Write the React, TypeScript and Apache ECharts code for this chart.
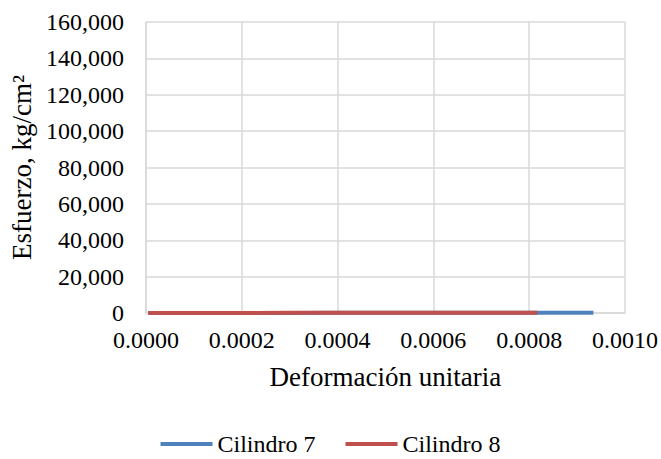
import React, { useEffect, useRef } from "react";
import * as echarts from "echarts";

const strain7 = [0.000005, 0.0001, 0.0002, 0.0003, 0.0004, 0.0005, 0.0006, 0.0007, 0.0008, 0.00086, 0.000934];
const stress7 = [0, 20, 42, 65, 88, 110, 130, 150, 168, 176, 182];
const strain8 = [0.000005, 0.0001, 0.0002, 0.0003, 0.0004, 0.0005, 0.0006, 0.0007, 0.00078, 0.000817];
const stress8 = [0, 22, 46, 70, 94, 118, 140, 160, 174, 180];

const seriesNames = ["Cilindro 7", "Cilindro 8"];
const seriesColors = ["#4F81BD", "#C0504D"];

const FONT = "Liberation Serif";

export default function App() {
  const ref = useRef<HTMLDivElement>(null);
  useEffect(() => {
    if (!ref.current) return;
    const chart = echarts.init(ref.current, undefined, { renderer: "svg" });
    const pairs = (xs: number[], ys: number[]) => xs.map((x, i) => [x, ys[i]]);
    const tick = { fontFamily: FONT, fontSize: 24, color: "#000" };
    const title = { fontFamily: FONT, fontSize: 27, color: "#000" };
    chart.setOption({
      animation: false,
      backgroundColor: "#ffffff",
      textStyle: { fontFamily: FONT },
      grid: { left: 141, right: 35, top: 22, bottom: 146, containLabel: false },
      xAxis: {
        type: "value",
        min: 0,
        max: 0.001,
        interval: 0.0002,
        name: "Deformación unitaria",
        nameLocation: "middle",
        nameGap: 50,
        nameTextStyle: { ...title },
        axisLine: { show: true, lineStyle: { color: "#d9d9d9", width: 1.5 } },
        axisTick: { show: false },
        axisLabel: {
          ...tick,
          margin: 15,
          formatter: (v: number) => v.toFixed(4),
        },
        splitLine: { show: true, lineStyle: { color: "#d9d9d9", width: 1.5 } },
      },
      yAxis: {
        type: "value",
        min: 0,
        max: 160000,
        interval: 20000,
        name: "Esfuerzo, kg/cm²",
        nameLocation: "middle",
        nameGap: 104,
        nameTextStyle: { ...title },
        axisLine: { show: true, lineStyle: { color: "#d9d9d9", width: 1.5 } },
        axisTick: { show: false },
        axisLabel: {
          ...tick,
          margin: 22,
          formatter: (v: number) => v.toLocaleString("en-US"),
        },
        splitLine: { show: true, lineStyle: { color: "#d9d9d9", width: 1.5 } },
      },
      legend: {
        top: 427,
        left: "center",
        itemWidth: 52,
        itemHeight: 4,
        itemGap: 30,
        icon: "rect",
        textStyle: { ...tick },
        data: seriesNames,
      },
      series: [
        {
          name: seriesNames[0],
          type: "line",
          data: pairs(strain7, stress7),
          showSymbol: false,
          symbol: "none",
          lineStyle: { color: seriesColors[0], width: 4 },
          itemStyle: { color: seriesColors[0] },
        },
        {
          name: seriesNames[1],
          type: "line",
          data: pairs(strain8, stress8),
          showSymbol: false,
          symbol: "none",
          lineStyle: { color: seriesColors[1], width: 4 },
          itemStyle: { color: seriesColors[1] },
        },
      ],
    });
    return () => chart.dispose();
  }, []);
  return <div ref={ref} style={{ width: 661, height: 459, position: "absolute", left: 0, top: 0 }} />;
}
